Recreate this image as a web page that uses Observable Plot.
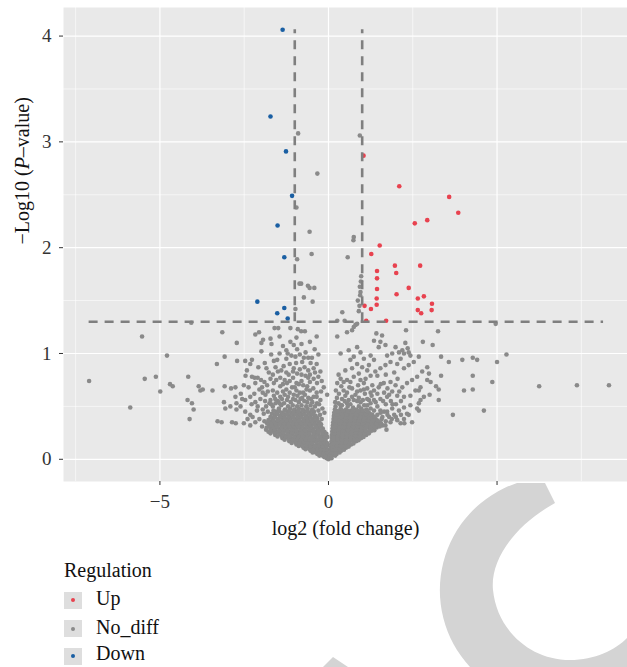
<!DOCTYPE html>
<html>
<head>
<meta charset="utf-8">
<script src="https://cdn.jsdelivr.net/npm/d3@7"></script>
<script src="https://cdn.jsdelivr.net/npm/@observablehq/plot@0.6"></script>
<style>
  html, body { margin: 0; padding: 0; background: #fff; }
  #wrap { position: relative; width: 627px; height: 667px; overflow: hidden; font-family: "Liberation Serif", serif; }
  #chart svg { display: block; }
  .lg { position: absolute; font-size: 20px; line-height: 20px; color: #111; white-space: nowrap; }
  .key { position: absolute; left: 64px; width: 18px; height: 17px; background: #dedede; }
  .key i { position: absolute; left: 7px; top: 6.5px; width: 4px; height: 4px; border-radius: 50%; }
  #wm { position: absolute; left: 0; top: 0; pointer-events: none; }
</style>
</head>
<body>
<div id="wrap">
  <div id="chart"></div>
  <svg id="wm" width="627" height="667">
    <path d="M517,483 A113,113 0 0 0 470,667 L627,667 L627,638 C615,650 595,660 570,660 C530,660 497,630 493,590 C490,560 515,525 555,503 L545,483 Z" fill="#d4d4d4"/>
    <path d="M323,667 L333,657 L348,667 Z" fill="#d4d4d4"/>
  </svg>
  <div class="lg" style="left:64px; top:560px;">Regulation</div>
  <div class="key" style="top:591.5px;"><i style="background:#E8424F"></i></div>
  <div class="lg" style="left:96px; top:588px;">Up</div>
  <div class="key" style="top:620px;"><i style="background:#8a8a8a"></i></div>
  <div class="lg" style="left:96px; top:616.5px;">No_diff</div>
  <div class="key" style="top:647.5px;"><i style="background:#1A5FA3"></i></div>
  <div class="lg" style="left:96px; top:643px;">Down</div>
</div>
<script>
// ---- data: [log2 fold change, -log10 P] ----
const upGenes = [
  [1.04,2.87],[2.10,2.58],[3.58,2.48],[3.85,2.33],[2.93,2.26],[2.56,2.23],[1.52,2.02],
  [1.27,1.94],[1.97,1.83],[2.72,1.83],[1.44,1.78],[2.01,1.76],[1.44,1.71],[2.38,1.62],
  [1.44,1.61],[2.02,1.56],[2.83,1.54],[2.65,1.52],[1.43,1.52],[3.07,1.47],[1.43,1.46],
  [1.07,1.45],[2.65,1.41],[3.06,1.41],[1.26,1.42],[2.75,1.38],[1.12,1.31],[1.71,1.31]
];
const downGenes = [
  [-1.36,4.06],[-1.72,3.24],[-1.26,2.91],[-1.08,2.49],[-1.51,2.21],
  [-1.31,1.91],[-2.11,1.49],[-1.31,1.43],[-1.52,1.38],[-1.21,1.33]
];
const noDiffHigh = [
  [-0.90,3.08],[0.93,3.06],[-0.33,2.70],[-0.95,2.38],[-0.56,2.15],[0.75,2.10],[0.74,2.07],
  [-0.50,1.94],[0.57,1.91],[-0.93,1.89],[0.97,1.73],[0.96,1.68],[-0.86,1.66],[-0.81,1.66],
  [-0.61,1.64],[0.93,1.63],[-0.42,1.62],[-0.56,1.62],[0.95,1.58],[0.94,1.55],[-0.73,1.53],
  [0.87,1.50],[-0.47,1.49],[0.92,1.45],[-0.98,1.42],[0.90,1.40],[0.41,1.39],[0.26,1.31],
  [0.48,1.31],[0.85,1.28],[0.80,1.27],[0.75,1.25],[0.70,1.22],[0.55,1.20],[0.26,1.16],
  [-1.13,1.24],[-0.91,1.23],[-0.81,1.21],[-0.70,1.21],[-1.60,1.24],[-1.49,1.24]
];
const noDiffLeftFar = [
  [-7.10,0.74],[-5.88,0.49],[-5.53,1.16],[-5.45,0.76],[-5.12,0.78],[-4.99,0.64],[-4.79,0.98],
  [-4.70,0.71],[-4.62,0.69],[-4.16,0.78],[-4.18,0.56],[-4.05,0.53],[-4.00,0.47],[-4.12,0.38],
  [-4.07,1.29],[-3.85,0.69],[-3.80,0.65],[-3.73,0.66],[-3.44,0.65],[-3.29,0.36],[-3.17,0.35],
  [-3.15,1.20],[-3.31,0.90],[-3.08,0.97],[-3.08,0.69],[-2.89,0.67],[-2.76,0.68],[-2.72,1.10],
  [-2.71,0.93],[-2.46,0.79],[-2.19,0.77],[-2.76,0.59],[-3.10,0.54],[-2.91,0.50],[-2.86,0.35],
  [-2.75,0.34]
];
const noDiffLeftMid = [
  [-2.17,1.18],[-2.06,1.20],[-1.94,1.13],[-1.99,1.10],[-1.72,1.14],[-1.69,1.09],[-1.13,1.11],
  [-1.03,1.08],[-1.99,1.02],[-0.41,1.04],[-1.25,1.03],[-1.21,1.00],[-0.93,1.04],[-0.68,1.01],
  [-2.47,0.93],[-2.27,0.94],[-2.32,0.90],[-2.08,0.87],[-1.89,0.91],[-1.62,0.93],[-1.52,0.94],
  [-1.25,0.95],[-0.98,0.97],[-0.73,0.96],[-0.49,0.96],[-0.96,0.91],[-0.78,0.92],[-0.53,0.91],
  [-2.42,0.84],[-1.84,0.86],[-1.57,0.87],[-1.33,0.88],[-1.03,0.86],[-0.71,0.87],[-0.44,0.86],
  [-2.27,0.78],[-1.77,0.82],[-1.50,0.83],[-2.10,0.77],[-2.00,0.75],[-1.72,0.76],[-1.43,0.77],
  [-1.18,0.80],[-0.93,0.81],[-0.68,0.79],[-0.44,0.76],[-0.24,0.83],[-2.51,0.70],[-2.37,0.68],
  [-2.17,0.72],[-1.97,0.68],[-1.82,0.70],[-1.62,0.72],[-1.43,0.69],[-1.23,0.72],[-1.08,0.68],
  [-0.88,0.71],[-0.63,0.69],[-0.34,0.72],[-0.14,0.68],[-2.56,0.57],[-2.47,0.56],[-2.32,0.59],
  [-2.17,0.54],[-2.02,0.57],[-1.87,0.61],[-1.72,0.56],[-1.57,0.53],[-1.43,0.59],[-1.23,0.56],
  [-1.03,0.61],[-0.83,0.57],[-0.63,0.54],[-0.44,0.59],[-0.24,0.56],[-0.04,0.61],[-2.73,0.53],
  [-2.61,0.50],[-2.73,0.47],[-2.47,0.45],[-2.32,0.42],[-2.12,0.46],[-1.92,0.43],[-3.06,0.48],
  [-2.17,0.35],[-2.32,0.32],[-2.51,0.34],[-1.97,0.31],
  [-1.35,0.64],[-1.15,0.63],[-0.95,0.65],[-0.75,0.63],[-0.55,0.65],[-0.35,0.63],[-1.65,0.65],
  [-1.95,0.63],[-1.30,0.75],[-1.05,0.77],[-0.80,0.74],[-0.55,0.80],[-0.30,0.78],[-1.40,0.84],
  [-1.15,0.90],[-0.85,0.85],[-0.60,0.84],[-0.35,0.90],[-1.70,0.99],[-1.45,1.00],[-1.10,0.98],
  [-0.85,0.99],[-0.60,0.96],[-0.30,0.99],[-1.35,1.07],[-0.80,1.09],[-0.55,1.11],[-1.45,1.16],
  [-0.95,1.15],[-0.35,1.16],[-2.60,0.62],[-2.20,0.62],
  [-1.75,0.53],[-1.50,0.55],[-1.32,0.53],[-1.12,0.54],[-0.98,0.56],[-0.72,0.55],[-0.52,0.57],
  [-0.34,0.53],[-1.62,0.60],[-1.30,0.61],[-0.92,0.60],[-0.70,0.61],[-0.35,0.59],[-1.85,0.50],
  [-1.65,0.50],[-0.40,0.50],[-0.30,0.46],[-0.25,0.42],[-0.20,0.38]
];
const noDiffLeftMid2 = [
  [-2.25,0.40],[-2.05,0.38],[-1.90,0.36],[-2.40,0.38],[-2.10,0.50],[-1.95,0.47],[-1.80,0.45],[-2.28,0.52],
  [-1.88,0.55],[-1.70,0.52],[-1.58,0.57],[-1.45,0.53],[-1.38,0.57],[-1.20,0.59],[-1.05,0.57],[-0.88,0.54],
  [-0.78,0.58],[-0.60,0.58],[-0.48,0.54],[-0.28,0.52],[-0.18,0.48],[-0.12,0.44],
  [-2.05,0.66],[-1.80,0.64],[-1.52,0.63],[-1.25,0.66],[-1.00,0.68],[-0.85,0.63],[-0.65,0.66],[-0.45,0.67],[-0.22,0.64],
  [-1.90,0.73],[-1.55,0.75],[-1.35,0.71],[-1.15,0.74],[-0.95,0.72],[-0.75,0.70],[-0.55,0.73],[-0.20,0.74],
  [-1.65,0.80],[-1.25,0.82],[-1.05,0.83],[-0.80,0.80],[-0.60,0.77],[-0.40,0.82]
];
const noDiffLeftCore = [
  [-0.12,0.02],[-0.05,0.01],
  [-0.33,0.05],[-0.22,0.04],[-0.12,0.05],[-0.03,0.04],
  [-0.53,0.08],[-0.42,0.07],[-0.30,0.08],[-0.19,0.08],[-0.08,0.07],
  [-0.74,0.11],[-0.63,0.11],[-0.50,0.10],[-0.39,0.11],[-0.27,0.12],[-0.16,0.11],[-0.06,0.10],
  [-0.95,0.14],[-0.83,0.14],[-0.71,0.15],[-0.59,0.14],[-0.47,0.13],[-0.35,0.14],[-0.23,0.15],[-0.12,0.14],[-0.03,0.13],
  [-1.16,0.17],[-1.03,0.18],[-0.91,0.17],[-0.79,0.17],[-0.66,0.18],[-0.55,0.17],[-0.42,0.17],[-0.30,0.18],[-0.19,0.17],[-0.08,0.16],
  [-1.37,0.20],[-1.24,0.21],[-1.11,0.20],[-0.98,0.20],[-0.87,0.21],[-0.74,0.20],[-0.62,0.21],[-0.50,0.20],[-0.38,0.21],[-0.26,0.20],[-0.14,0.21],
  [-1.58,0.23],[-1.45,0.24],[-1.32,0.23],[-1.20,0.23],[-1.07,0.24],[-0.94,0.23],[-0.82,0.24],[-0.70,0.23],[-0.57,0.24],[-0.44,0.23],[-0.31,0.24],[-0.18,0.23],[-0.07,0.22],
  [-1.78,0.26],[-1.65,0.27],[-1.52,0.26],[-1.40,0.26],[-1.28,0.27],[-1.15,0.26],[-1.02,0.27],[-0.89,0.26],[-0.77,0.27],[-0.64,0.26],[-0.51,0.27],[-0.38,0.26],[-0.24,0.27],[-0.12,0.26],
  [-1.83,0.30],[-1.70,0.29],[-1.58,0.30],[-1.46,0.29],[-1.33,0.30],[-1.21,0.29],[-1.09,0.30],[-0.96,0.29],[-0.84,0.30],[-0.71,0.29],[-0.58,0.30],[-0.45,0.29],[-0.30,0.30],[-0.17,0.29],
  [-1.76,0.33],[-1.63,0.32],[-1.51,0.33],[-1.38,0.32],[-1.26,0.33],[-1.13,0.32],[-1.00,0.33],[-0.88,0.32],[-0.75,0.33],[-0.62,0.32],[-0.49,0.33],[-0.35,0.32],[-0.22,0.33],
  [-1.70,0.36],[-1.56,0.35],[-1.44,0.36],[-1.31,0.35],[-1.19,0.36],[-1.06,0.35],[-0.93,0.36],[-0.81,0.35],[-0.68,0.36],[-0.55,0.35],[-0.40,0.36],[-0.27,0.35],
  [-1.66,0.39],[-1.50,0.38],[-1.36,0.39],[-1.24,0.38],[-1.12,0.39],[-0.99,0.38],[-0.86,0.39],[-0.73,0.38],[-0.60,0.39],[-0.47,0.38],[-0.33,0.39],
  [-1.60,0.42],[-1.43,0.41],[-1.30,0.42],[-1.17,0.41],[-1.04,0.42],[-0.91,0.41],[-0.78,0.42],[-0.66,0.41],[-0.52,0.42],[-0.38,0.41],
  [-1.55,0.45],[-1.38,0.44],[-1.22,0.45],[-1.09,0.44],[-0.96,0.45],[-0.84,0.44],[-0.70,0.45],[-0.57,0.44],[-0.43,0.45],
  [-1.47,0.48],[-1.29,0.47],[-1.14,0.48],[-1.01,0.47],[-0.88,0.48],[-0.76,0.47],[-0.62,0.48],[-0.48,0.47],
  [-1.40,0.51],[-1.20,0.50],[-1.06,0.51],[-0.93,0.50],[-0.80,0.51],[-0.66,0.50],[-0.53,0.51],
  [0.00,0.00],[-0.02,0.01],[0.02,0.01]
];
const noDiffLeftCoreFill = [
  [-0.27,0.035],[-0.17,0.035],[-0.08,0.03],
  [-0.47,0.065],[-0.36,0.065],[-0.25,0.06],[-0.14,0.065],[-0.04,0.06],
  [-0.68,0.095],[-0.56,0.095],[-0.45,0.09],[-0.33,0.095],[-0.22,0.095],[-0.11,0.09],[-0.02,0.09],
  [-0.88,0.125],[-0.77,0.125],[-0.65,0.13],[-0.53,0.125],[-0.41,0.125],[-0.29,0.13],[-0.18,0.125],[-0.07,0.125],
  [-1.09,0.155],[-0.97,0.16],[-0.85,0.155],[-0.73,0.16],[-0.61,0.155],[-0.49,0.155],[-0.36,0.16],[-0.24,0.155],[-0.13,0.155],[-0.03,0.15],
  [-1.30,0.185],[-1.17,0.19],[-1.05,0.185],[-0.93,0.19],[-0.81,0.185],[-0.68,0.19],[-0.56,0.185],[-0.44,0.19],[-0.32,0.185],[-0.20,0.19],[-0.09,0.185],
  [-1.51,0.215],[-1.38,0.22],[-1.26,0.215],[-1.14,0.22],[-1.01,0.215],[-0.88,0.22],[-0.76,0.215],[-0.63,0.22],[-0.51,0.215],[-0.38,0.22],[-0.25,0.215],[-0.12,0.22],[-0.03,0.21],
  [-1.72,0.245],[-1.59,0.25],[-1.46,0.245],[-1.34,0.25],[-1.21,0.245],[-1.08,0.25],[-0.96,0.245],[-0.83,0.25],[-0.70,0.245],[-0.57,0.25],[-0.44,0.245],[-0.31,0.25],[-0.18,0.245],[-0.06,0.24],
  [-1.85,0.28],[-1.72,0.275],[-1.59,0.28],[-1.46,0.275],[-1.34,0.28],[-1.21,0.275],[-1.08,0.28],[-0.95,0.275],[-0.83,0.28],[-0.70,0.275],[-0.57,0.28],[-0.44,0.275],[-0.31,0.28],[-0.18,0.275],
  [-1.76,0.31],[-1.64,0.305],[-1.52,0.31],[-1.39,0.305],[-1.27,0.31],[-1.15,0.305],[-1.02,0.31],[-0.90,0.305],[-0.77,0.31],[-0.64,0.305],[-0.51,0.31],[-0.37,0.305],[-0.23,0.31],
  [-1.82,0.34],[-1.69,0.335],[-1.57,0.34],[-1.44,0.335],[-1.32,0.34],[-1.19,0.335],[-1.06,0.34],[-0.94,0.335],[-0.81,0.34],[-0.68,0.335],[-0.55,0.34],[-0.42,0.335],[-0.28,0.34],
  [-1.78,0.37],[-1.63,0.365],[-1.50,0.37],[-1.37,0.365],[-1.25,0.37],[-1.12,0.365],[-1.00,0.37],[-0.87,0.365],[-0.74,0.37],[-0.61,0.365],[-0.48,0.37],[-0.33,0.365],
  [-1.72,0.40],[-1.58,0.395],[-1.43,0.40],[-1.30,0.395],[-1.18,0.40],[-1.05,0.395],[-0.92,0.40],[-0.80,0.395],[-0.66,0.40],[-0.53,0.395],[-0.40,0.40],
  [-1.68,0.43],[-1.51,0.425],[-1.36,0.43],[-1.23,0.425],[-1.10,0.43],[-0.97,0.425],[-0.85,0.43],[-0.72,0.425],[-0.59,0.43],[-0.45,0.425],
  [-1.63,0.46],[-1.46,0.455],[-1.30,0.46],[-1.16,0.455],[-1.03,0.46],[-0.90,0.455],[-0.77,0.46],[-0.63,0.455],[-0.50,0.46]
];
const noDiffRightFar = [
  [2.30,1.22],[3.25,1.21],[2.80,1.11],[3.09,1.08],[3.34,0.97],[3.57,0.92],[3.97,0.94],[4.28,0.96],
  [4.41,0.94],[5.00,0.92],[5.28,0.99],[3.34,0.79],[4.28,0.79],[4.86,0.73],[6.25,0.69],[7.37,0.70],
  [8.32,0.70],[4.02,0.65],[4.28,0.66],[3.69,0.42],[4.61,0.46],[3.19,0.69],[3.27,0.66],[3.27,0.56],
  [4.96,1.28],[2.93,0.87],[2.98,0.81],[2.93,0.75],[3.03,0.73],[3.00,0.61]
];
const noDiffRightMid = [
  [1.42,1.19],[1.59,1.17],[1.35,1.12],[1.54,1.11],[1.69,1.08],[1.49,1.06],[2.28,1.10],[2.35,1.05],
  [2.19,1.03],[2.38,1.01],[2.24,1.00],[2.43,0.98],[1.99,1.06],[2.09,1.01],[1.89,1.00],[1.74,0.98],
  [2.14,0.95],[0.36,1.00],[0.60,1.03],[0.85,1.06],[0.95,1.01],[0.75,0.97],[1.05,0.95],[1.25,0.98],
  [1.35,0.94],[1.20,0.89],[1.00,0.87],[0.85,0.90],[0.65,0.94],[2.68,0.97],[2.53,0.92],[2.38,0.89],
  [2.24,0.86],[2.04,0.90],[1.84,0.92],[1.69,0.89],[1.54,0.86],[1.39,0.83],[1.25,0.79],[1.10,0.76],
  [0.95,0.75],[0.75,0.78],[0.55,0.75],[0.36,0.76],[0.26,0.72],[2.78,0.83],[2.63,0.78],[2.48,0.75],
  [2.33,0.72],[2.19,0.68],[1.99,0.70],[1.84,0.73],[1.64,0.72],[1.49,0.68],[1.35,0.65],[1.15,0.67],
  [0.95,0.65],[0.70,0.67],[0.45,0.65],[0.31,0.62],[2.73,0.68],[2.58,0.65],[2.43,0.60],[2.24,0.59],
  [2.04,0.60],[1.89,0.64],[1.74,0.59],[1.54,0.57],[1.35,0.56],[1.15,0.57],[0.95,0.54],[0.75,0.56],
  [0.55,0.53],[0.36,0.51],[2.83,0.59],[2.73,0.56],[2.68,0.53],[2.63,0.48],[2.43,0.51],[2.24,0.49],
  [2.09,0.46],[1.89,0.48],[1.74,0.45],[1.54,0.46],[2.38,0.42],[2.24,0.38],[2.04,0.37],[1.84,0.35],
  [1.69,0.32],[2.14,0.34],[2.68,0.65],[2.68,0.46],[2.48,0.35],[2.25,0.34],[2.33,0.43],[1.72,0.28],
  [0.30,0.53],[0.48,0.55],[0.65,0.52],[0.85,0.55],[1.02,0.56],[1.25,0.53],[1.45,0.50],[1.60,0.40],
  [1.65,0.45],[1.80,0.40],[1.95,0.42],[1.45,0.42],[0.25,0.58],[0.50,0.60],[0.80,0.61],[1.08,0.62],
  [1.28,0.60],[1.62,0.55],[1.85,0.55],[2.00,0.52]
];
const noDiffRightMid2 = [
  [1.70,0.36],[1.88,0.38],[1.58,0.38],[2.00,0.40],[2.15,0.42],[1.75,0.42],[1.55,0.44],[1.35,0.46],[1.25,0.48],[1.15,0.51],
  [0.20,0.54],[0.40,0.57],[0.60,0.56],[0.70,0.59],[0.90,0.58],[1.20,0.56],[1.40,0.54],[1.70,0.52],[1.90,0.52],[2.15,0.55],
  [0.22,0.65],[0.38,0.69],[0.55,0.63],[0.62,0.68],[0.85,0.64],[1.05,0.66],[1.25,0.63],[1.45,0.62],[1.65,0.63],[1.80,0.61],[2.10,0.64],
  [0.30,0.80],[0.45,0.73],[0.65,0.73],[0.88,0.70],[1.05,0.72],[1.30,0.70],[1.55,0.71],[1.75,0.67],[2.05,0.76],
  [0.50,0.84],[0.70,0.86],[0.90,0.81],[1.15,0.84],[1.45,0.79],[1.70,0.80],[1.95,0.82]
];
const noDiffRightCore = [
  [0.04,0.02],[0.09,0.01],
  [0.05,0.05],[0.15,0.04],[0.24,0.05],
  [0.06,0.08],[0.17,0.07],[0.28,0.08],[0.38,0.08],
  [0.07,0.11],[0.18,0.12],[0.30,0.11],[0.41,0.10],[0.52,0.11],
  [0.08,0.14],[0.19,0.15],[0.31,0.14],[0.43,0.13],[0.55,0.14],[0.67,0.14],
  [0.09,0.17],[0.21,0.18],[0.33,0.17],[0.45,0.16],[0.57,0.17],[0.70,0.18],[0.82,0.17],
  [0.10,0.20],[0.22,0.21],[0.34,0.20],[0.47,0.19],[0.59,0.20],[0.72,0.21],[0.85,0.20],[0.97,0.20],
  [0.10,0.23],[0.23,0.24],[0.36,0.23],[0.48,0.22],[0.61,0.23],[0.74,0.24],[0.87,0.23],[1.00,0.23],[1.12,0.23],
  [0.11,0.26],[0.24,0.27],[0.37,0.26],[0.50,0.25],[0.63,0.26],[0.76,0.27],[0.89,0.26],[1.02,0.26],[1.15,0.26],[1.28,0.27],
  [0.12,0.29],[0.25,0.30],[0.38,0.29],[0.52,0.28],[0.65,0.29],[0.78,0.30],[0.91,0.29],[1.04,0.29],[1.17,0.30],[1.30,0.29],[1.43,0.30],
  [0.13,0.32],[0.27,0.33],[0.40,0.32],[0.54,0.31],[0.67,0.32],[0.80,0.33],[0.93,0.32],[1.07,0.32],[1.20,0.33],[1.33,0.32],[1.47,0.32],[1.60,0.32],
  [0.14,0.35],[0.28,0.36],[0.42,0.35],[0.55,0.34],[0.69,0.35],[0.83,0.36],[0.96,0.35],[1.09,0.35],[1.23,0.36],[1.37,0.35],[1.52,0.35],
  [0.15,0.38],[0.29,0.39],[0.43,0.38],[0.57,0.37],[0.71,0.38],[0.85,0.39],[0.99,0.38],[1.12,0.38],[1.26,0.39],[1.40,0.38],
  [0.16,0.41],[0.31,0.42],[0.45,0.41],[0.60,0.40],[0.74,0.41],[0.88,0.42],[1.02,0.41],[1.16,0.41],[1.30,0.42],
  [0.17,0.44],[0.33,0.45],[0.48,0.44],[0.63,0.43],[0.77,0.44],[0.91,0.45],[1.05,0.44],[1.20,0.44],
  [0.19,0.47],[0.36,0.48],[0.52,0.47],[0.67,0.46],[0.82,0.47],[0.97,0.48],[1.12,0.47],
  [0.21,0.50],[0.40,0.51],[0.57,0.50],[0.73,0.49],[0.90,0.50],[1.06,0.51]
];
const noDiffRightCoreFill = [
  [0.10,0.035],[0.20,0.035],
  [0.11,0.065],[0.22,0.065],[0.33,0.065],
  [0.12,0.095],[0.23,0.095],[0.35,0.095],[0.46,0.09],
  [0.13,0.125],[0.25,0.13],[0.37,0.125],[0.49,0.125],[0.60,0.12],
  [0.14,0.155],[0.26,0.16],[0.38,0.155],[0.50,0.155],[0.62,0.155],[0.74,0.15],
  [0.15,0.185],[0.27,0.19],[0.39,0.185],[0.52,0.185],[0.64,0.185],[0.77,0.19],[0.89,0.18],
  [0.16,0.215],[0.28,0.22],[0.41,0.215],[0.53,0.215],[0.66,0.215],[0.79,0.22],[0.91,0.215],[1.04,0.21],
  [0.17,0.245],[0.30,0.25],[0.43,0.245],[0.55,0.245],[0.68,0.245],[0.81,0.25],[0.94,0.245],[1.07,0.245],[1.20,0.245],
  [0.18,0.275],[0.31,0.28],[0.45,0.275],[0.58,0.275],[0.71,0.275],[0.84,0.28],[0.97,0.275],[1.10,0.275],[1.23,0.28],[1.36,0.275],
  [0.19,0.305],[0.33,0.31],[0.46,0.305],[0.60,0.305],[0.73,0.305],[0.86,0.31],[0.99,0.305],[1.12,0.305],[1.25,0.31],[1.38,0.305],[1.52,0.31],
  [0.20,0.335],[0.34,0.34],[0.48,0.335],[0.62,0.335],[0.75,0.335],[0.88,0.34],[1.02,0.335],[1.15,0.335],[1.28,0.34],[1.42,0.335],[1.56,0.34],
  [0.21,0.365],[0.36,0.37],[0.50,0.365],[0.64,0.365],[0.78,0.365],[0.91,0.37],[1.05,0.365],[1.19,0.365],[1.32,0.37],[1.46,0.365],
  [0.22,0.395],[0.37,0.40],[0.52,0.395],[0.66,0.395],[0.80,0.395],[0.94,0.40],[1.08,0.395],[1.22,0.395],[1.36,0.40],
  [0.24,0.425],[0.39,0.43],[0.54,0.425],[0.68,0.425],[0.83,0.425],[0.97,0.43],[1.11,0.425],[1.25,0.425],
  [0.26,0.455],[0.41,0.46],[0.57,0.455],[0.72,0.455],[0.87,0.455],[1.01,0.46],[1.16,0.455]
];
const noDiffGenes = [].concat(noDiffHigh, noDiffLeftFar, noDiffLeftMid, noDiffLeftMid2, noDiffLeftCore,
                              noDiffLeftCoreFill, noDiffRightFar, noDiffRightMid, noDiffRightMid2,
                              noDiffRightCore, noDiffRightCoreFill);

// thresholds and guide extents
const fcCut = [-1, 1];
const pCut = 1.3;
const vlineTop = 4.06;
const hlineRange = [-7.1, 8.16];

// ticks
const xMajor = [-5, 0, 5];
const xMinor = [-7.5, -2.5, 2.5, 7.5];
const yMajor = [0, 1, 2, 3, 4];
const yMinor = [0.5, 1.5, 2.5, 3.5];

const xTitle = "log2 (fold change)";
const yTitle = "\u2212Log10 (P\u2013value)";

const colUp = "#E8424F", colNo = "#8a8a8a", colDown = "#1A5FA3";
const dashCol = "#7f7f7f";

const chart = Plot.plot({
  width: 627,
  height: 545,
  marginLeft: 63,
  marginRight: 0,
  marginTop: 7,
  marginBottom: 64,
  x: {domain: [-7.86, 8.87]},
  y: {domain: [-0.21, 4.27]},
  style: {fontFamily: "Liberation Serif, serif", fontSize: "19px", color: "#333", background: "transparent", overflow: "visible"},
  marks: [
    Plot.frame({fill: "#e9e9e9", stroke: "none"}),
    Plot.gridX(xMinor, {stroke: "white", strokeOpacity: 1, strokeWidth: 0.6}),
    Plot.gridY(yMinor, {stroke: "white", strokeOpacity: 1, strokeWidth: 0.6}),
    Plot.gridX(xMajor, {stroke: "white", strokeOpacity: 1, strokeWidth: 1.2}),
    Plot.gridY(yMajor, {stroke: "white", strokeOpacity: 1, strokeWidth: 1.2}),
    Plot.dot(noDiffGenes, {x: d => d[0], y: d => d[1], r: 2.3, fill: colNo, stroke: "none"}),
    Plot.dot(upGenes, {x: d => d[0], y: d => d[1], r: 2.3, fill: colUp, stroke: "none"}),
    Plot.dot(downGenes, {x: d => d[0], y: d => d[1], r: 2.3, fill: colDown, stroke: "none"}),
    Plot.ruleX(fcCut, {y1: pCut, y2: vlineTop, stroke: dashCol, strokeWidth: 2.6, strokeDasharray: "9,7"}),
    Plot.ruleY([pCut], {x1: hlineRange[0], x2: hlineRange[1], stroke: dashCol, strokeWidth: 2.6, strokeDasharray: "9,7"}),
    Plot.axisX(xMajor, {tickSize: 4, tickPadding: 9, stroke: "#333", fill: "#333", fontSize: 19, label: null, tickFormat: d => d < 0 ? "\u2212" + Math.abs(d) : String(d)}),
    Plot.axisY(yMajor, {tickSize: 4, tickPadding: 8, stroke: "#333", fill: "#333", fontSize: 19, label: null, tickFormat: d => String(d)}),
    Plot.text([xTitle], {frameAnchor: "bottom", dy: 47, lineAnchor: "middle", fontSize: 20, fill: "#111"}),
    Plot.text([yTitle], {frameAnchor: "left", dx: -41, rotate: -90, lineAnchor: "middle", fontSize: 20, fill: "#111"})
  ]
});
document.getElementById("chart").appendChild(chart);

// italic P in the y title
chart.querySelectorAll("text").forEach(t => {
  if (t.textContent === yTitle) {
    const ns = "http://www.w3.org/2000/svg";
    t.textContent = "";
    const parts = [["\u2212Log10 (", null], ["P", "italic"], ["\u2013value)", null]];
    for (const [s, st] of parts) {
      const ts = document.createElementNS(ns, "tspan");
      ts.textContent = s;
      if (st) ts.setAttribute("font-style", st);
      t.appendChild(ts);
    }
  }
});
</script>
</body>
</html>
